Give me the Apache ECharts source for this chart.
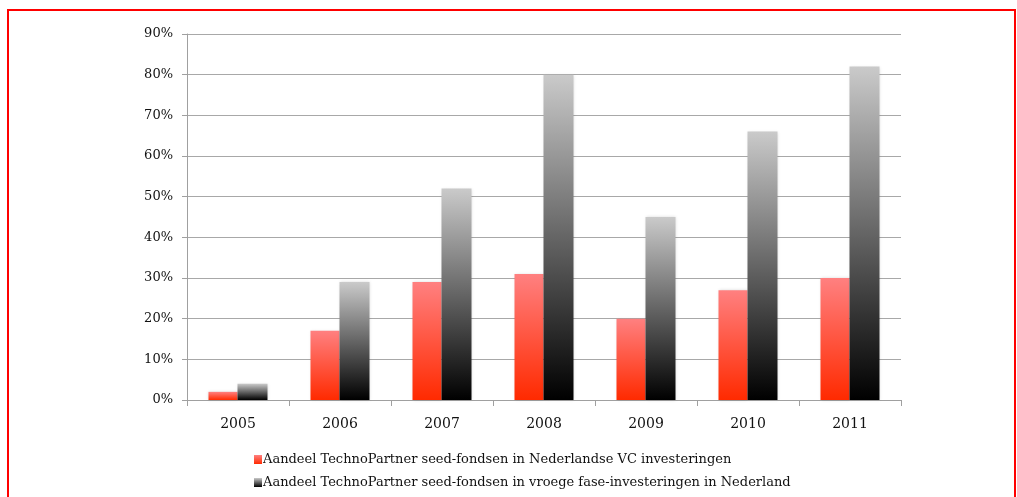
<!DOCTYPE html>
<html>
<head>
<meta charset="utf-8">
<script src="https://cdn.jsdelivr.net/npm/echarts@6/dist/echarts.min.js"></script>
<style>
  html, body { margin: 0; padding: 0; background: #fff; }
  #frame { position: absolute; left: 7px; top: 9px; width: 1005px; height: 500px; border: 2px solid #ff0000; border-bottom: none; }
  #chart { position: absolute; left: 0; top: 0; width: 1017px; height: 497px; }
</style>
</head>
<body>
<div id="frame"></div>
<div id="chart"></div>
<script>
const years = ['2005', '2006', '2007', '2008', '2009', '2010', '2011'];
const vcShare = [2, 17, 29, 31, 20, 27, 30];
const earlyShare = [4, 29, 52, 80, 45, 66, 82];
const seriesNames = [
  'Aandeel TechnoPartner seed-fondsen in Nederlandse VC investeringen',
  'Aandeel TechnoPartner seed-fondsen in vroege fase-investeringen in Nederland'
];

const serif = '"DejaVu Serif", "Liberation Serif", serif';

const redFill = new echarts.graphic.LinearGradient(0, 0, 0, 1, [
  { offset: 0, color: '#ff8080' },
  { offset: 1, color: '#ff2a00' }
]);
const grayFill = new echarts.graphic.LinearGradient(0, 0, 0, 1, [
  { offset: 0, color: '#cacaca' },
  { offset: 1, color: '#000000' }
]);

const chart = echarts.init(document.getElementById('chart'));
chart.setOption({
  animation: false,
  grid: { left: 187, right: 116, top: 34, bottom: 97 },
  legend: {
    orient: 'vertical',
    left: 249,
    top: 448,
    itemWidth: 8,
    itemHeight: 9,
    itemGap: 10,
    icon: 'rect',
    textStyle: { fontFamily: serif, fontSize: 13, color: '#111', padding: [0, 0, 0, -4] },
    data: seriesNames
  },
  xAxis: {
    type: 'category',
    data: years,
    axisLine: { lineStyle: { color: '#a0a0a0', width: 1 } },
    axisTick: { show: true, length: 6, lineStyle: { color: '#a0a0a0' } },
    axisLabel: { fontFamily: serif, fontSize: 14, color: '#111', margin: 17 }
  },
  yAxis: {
    type: 'value',
    min: 0,
    max: 90,
    interval: 10,
    axisLine: { show: true, lineStyle: { color: '#a0a0a0', width: 1 } },
    axisTick: { show: true, length: 5, lineStyle: { color: '#a0a0a0' } },
    axisLabel: { fontFamily: serif, fontSize: 13, color: '#111', margin: 14, formatter: '{value}%' },
    splitLine: { lineStyle: { color: '#a8a8a8', width: 1 } }
  },
  series: [
    {
      name: seriesNames[0],
      type: 'bar',
      data: vcShare,
      barWidth: 29,
      barGap: '0%',
      itemStyle: { color: redFill, shadowColor: 'rgba(0,0,0,0.15)', shadowBlur: 3 }
    },
    {
      name: seriesNames[1],
      type: 'bar',
      data: earlyShare,
      barWidth: 30,
      itemStyle: { color: grayFill, shadowColor: 'rgba(0,0,0,0.15)', shadowBlur: 3 }
    }
  ]
});
window.addEventListener('resize', () => chart.resize());
</script>
</body>
</html>
